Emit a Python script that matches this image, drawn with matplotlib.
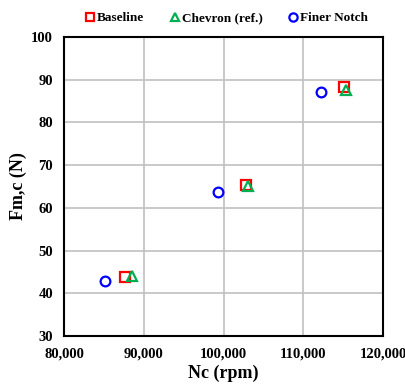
import matplotlib.pyplot as plt
from matplotlib.ticker import FuncFormatter

plt.rcParams['font.family'] = ['Liberation Serif', 'DejaVu Serif']
plt.rcParams['font.weight'] = 'bold'

# speed (rpm) and cutting force (N) for each notch design
baseline_nc = [87700, 102800, 115100]
baseline_fm = [43.8, 65.4, 88.3]
chevron_nc = [88500, 103100, 115400]
chevron_fm = [44.0, 65.0, 87.6]
finer_nc = [85200, 99300, 112200]
finer_fm = [42.8, 63.6, 87.1]

fig = plt.figure(figsize=(4.06, 3.85), dpi=100)
ax = fig.add_axes([64 / 406, 1 - 336 / 385, 319 / 406, 299 / 385])

mk = dict(linestyle='none', markerfacecolor='none', markersize=7, markeredgewidth=1.6)
ax.plot(baseline_nc, baseline_fm, marker='s', color='#ff0000', label='Baseline', **mk)
ax.plot(chevron_nc, chevron_fm, marker='^', color='#00b050', label='Chevron (ref.)', **mk)
ax.plot(finer_nc, finer_fm, marker='o', color='#0000ff', label='Finer Notch', **mk)

ax.set_xlim(80000, 120000)
ax.set_ylim(30, 100)
ax.set_xticks(range(80000, 120001, 10000))
ax.set_yticks(range(30, 101, 10))
ax.xaxis.set_major_formatter(FuncFormatter(lambda v, p: f'{int(v):,}'))
ax.grid(True, color='#c0c0c0', linewidth=1.2)
ax.set_axisbelow(True)
ax.tick_params(axis='y', length=0, labelsize=10.5, pad=8)
ax.tick_params(axis='x', length=0, labelsize=10.5, pad=8)
for s in ax.spines.values():
    s.set_linewidth(1.5)
    s.set_color('black')

ax.set_xlabel('Nc (rpm)', fontsize=13, fontweight='bold', labelpad=3)
ax.set_ylabel('Fm,c (N)', fontsize=13, fontweight='bold', labelpad=3)

leg = ax.legend(loc='lower center', bbox_to_anchor=(0.51, 1.0), ncol=3, frameon=False,
                fontsize=9.5, handlelength=0.7, handletextpad=0.15, columnspacing=2.0,
                borderaxespad=0.55, markerscale=0.85)

fig.savefig('out.png', dpi=100)
